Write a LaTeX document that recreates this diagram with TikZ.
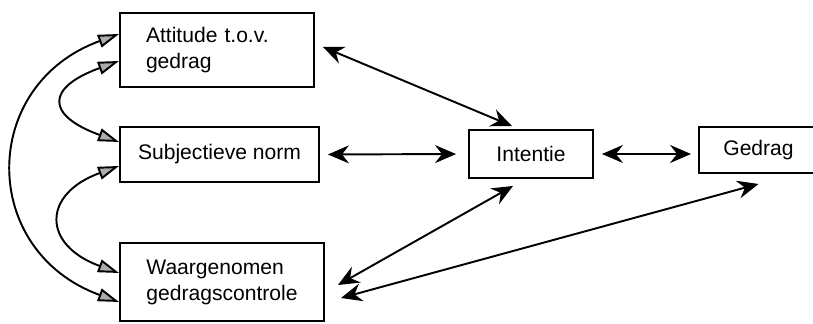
\documentclass[tikz,border=0pt]{standalone}
\usepackage{fontspec}
\setmainfont{Liberation Sans}
\usetikzlibrary{arrows.meta}

\begin{document}
\begin{tikzpicture}[
      font=\fontsize{12}{14.8}\selectfont,
      box/.style={draw=black, line width=1.1pt, inner sep=0pt, align=center},
      flow/.style={draw=black, line width=1.1pt,
                   {Stealth[length=4.2mm, width=3.6mm, inset=1.4mm]}-{Stealth[length=4.2mm, width=3.6mm, inset=1.4mm]}},
      link/.style={draw=black, line width=1.1pt,
                   {Triangle[length=4.2mm, width=2.6mm, fill=gray!65]}-{Triangle[length=4.2mm, width=2.6mm, fill=gray!65]}}
    ]
    \useasboundingbox (0,0) rectangle (16.26,-6.48);

    % Determinants on the left.
    \node[box, minimum width=3.88cm, minimum height=1.48cm, text width=2.84cm,
          inner xsep=.52cm, align=left] (attitude) at (4.34,-1.00) {Attitude t.o.v.\\gedrag};
    \node[box, minimum width=3.98cm, minimum height=1.10cm] (subjnorm) at (4.39,-3.09)
      {Subjectieve norm};
    \node[box, minimum width=4.08cm, minimum height=1.56cm, align=left] (waargenomen)
      at (4.44,-5.64) {Waargenomen\\gedragscontrole};

    % Intention and behaviour.
    \node[box, minimum width=2.48cm, minimum height=.96cm] (intentie) at (10.62,-3.08) {Intentie};
    \node[box, minimum width=2.38cm, minimum height=.92cm] (gedrag) at (15.17,-3.00) {Gedrag};

    % Correlations between the determinants.
    \draw[link] ([yshift=.32cm]attitude.west) .. controls +(200:2.98) and +(160:2.98) ..
      ([yshift=-.40cm]waargenomen.west);
    \draw[link] ([yshift=-.22cm]attitude.west) .. controls +(200:1.56) and +(160:1.56) ..
      ([yshift=.25cm]subjnorm.west);
    \draw[link] ([yshift=-.23cm]subjnorm.west) .. controls +(200:1.64) and +(160:1.64) ..
      ([yshift=.18cm]waargenomen.west);

    % Paths to intention and behaviour.
    \draw[flow] ([xshift=.16cm, yshift=.06cm]attitude.east) -- ([xshift=-.38cm, yshift=.06cm]intentie.north);
    \draw[flow, shorten <=.16cm, shorten >=.24cm] (subjnorm.east) -- (intentie.west);
    \draw[flow, shorten <=.16cm, shorten >=.14cm] (intentie.east) -- (intentie.east -| gedrag.west);
    \draw[flow] ([xshift=-.36cm, yshift=-.14cm]intentie.south) -- ([xshift=.26cm, yshift=-.06cm]waargenomen.east);
    \draw[flow] ([yshift=-.20cm]gedrag.south) -- ([xshift=.32cm, yshift=-.32cm]waargenomen.east);
  \end{tikzpicture}
\end{document}
